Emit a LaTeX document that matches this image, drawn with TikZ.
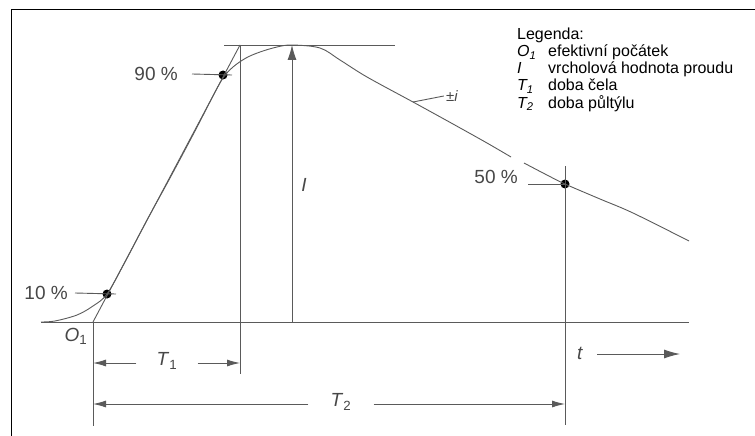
\documentclass[tikz,border=0pt]{standalone}
\usepackage{fontspec}
\setmainfont{Liberation Sans}
\usepackage{tikz}
\usetikzlibrary{arrows.meta}
\definecolor{CurveGray}{HTML}{5A5A5A}
\definecolor{LabelGray}{HTML}{474747}

\begin{document}
\begin{tikzpicture}[x=1pt, y=-1pt,
        line/.style={draw=CurveGray, line width=0.9pt},
        pct/.style={text=LabelGray, inner sep=0pt, font=\fontsize{19}{21}\selectfont},
        legend/.style={anchor=base west, inner sep=0pt, font=\fontsize{16}{18}\selectfont},
        dot/.style={circle, fill=black, inner sep=0pt, minimum size=9pt},
        dimarrow/.style={-{Latex[length=13pt, width=7pt]}},
        peakarrow/.style={-{Latex[length=15pt, width=9pt]}},
        timearrow/.style={-{Latex[length=16pt, width=9pt]}}]
        \useasboundingbox (0,0) rectangle (755,436);
        \draw [line width=0.8pt] (755,9) -- (11,9) -- (11,436);
        \coordinate (AxisL) at (41,322);
        \coordinate (AxisR) at (689,322);
        \coordinate (O1) at (93,322);
        \coordinate (O1Low) at (93,426);
        \coordinate (TopT) at (240,45);
        \coordinate (T1Low) at (240,374);
        \coordinate (PeakL) at (224,45);
        \coordinate (PeakR) at (395,45);
        \coordinate (Peak) at (292,45);
        \coordinate (PeakBase) at (292,322);
        \coordinate (HalfTop) at (565,166);
        \coordinate (HalfLow) at (565,425);
        \node (Dot10) [dot] at (107,294) {};
        \node (Dot90) [dot] at (223,75) {};
        \node (Dot50) [dot] at (565,184) {};
        \draw [line] (AxisL) -- (AxisR);
        \draw [line] plot [smooth, tension=0.55] coordinates {(41,322) (55,321) (77,315) (93,306) (107,294) (125,262) (147,220) (170,178) (195,131) (213,96) (223,78) (233,67) (246,58) (260,52) (277,47) (292,45) (320,48) (340,60) (367,77) (413,102) (453,124) (487,143) (511,157)};
        \draw [line] plot [smooth, tension=0.55] coordinates {(524,163) (545,174) (565,184) (600,199) (633,213) (689,241)};
        \draw [line] (O1) -- (TopT);
        \draw [line] (PeakL) -- (PeakR);
        \draw [line] (TopT) -- (T1Low);
        \draw [line] (O1) -- (O1Low);
        \draw [line] (HalfTop) -- (HalfLow);
        \draw [line, peakarrow] (PeakBase) -- (Peak);
        \node (Pct10) [pct, anchor=east] at (68,293) {10 \%};
        \node (Pct90) [pct, anchor=east] at (178,74) {90 \%};
        \node (Pct50) [pct, anchor=east] at (518,177) {50 \%};
        \draw [line] ([xshift=7pt]Pct10.east) -- ([xshift=9pt]Dot10.center);
        \draw [line] ([xshift=14pt]Pct90.east) -- ([xshift=9pt]Dot90.center);
        \draw [line] ([xshift=10pt,yshift=-7pt]Pct50.east) -- (Dot50.center);
        \node (LabO1) [pct] at (76,336) {\textit{O}\textsubscript{1}};
        \node (LabI) [pct] at (304,185) {\textit{I}};
        \node (LabT1) [pct] at (167,361) {\textit{T}\textsubscript{1}};
        \node (LabT2) [pct] at (341,402) {\textit{T}\textsubscript{2}};
        \node (LabT) [pct] at (580,353) {\textit{t}};
        \node (LabPm) [pct, font=\fontsize{15}{17}\selectfont] at (452,96) {±\textit{i}};
        \coordinate (T1L) at (93,363);
        \coordinate (T1R) at (240,363);
        \coordinate (T2L) at (93,404);
        \coordinate (T2R) at (565,404);
        \draw [line, dimarrow] ([xshift=-20pt]LabT1.west |- T1L) -- (T1L);
        \draw [line, dimarrow] ([xshift=20pt]LabT1.east |- T1R) -- (T1R);
        \draw [line, dimarrow] ([xshift=-22pt]LabT2.west |- T2L) -- (T2L);
        \draw [line, dimarrow] ([xshift=22pt]LabT2.east |- T2R) -- (T2R);
        \coordinate (TimeEnd) at (680,354);
        \draw [line, timearrow] ([xshift=14pt]LabT.east |- TimeEnd) -- (TimeEnd);
        \coordinate (PmFoot) at (413,102);
        \draw [line] (PmFoot) -- ([xshift=-2pt]LabPm.west);
        \node (Leg) [legend] at (517,40) {Legenda:};
        \node (LegO) [legend] at (517,57) {\textit{O\textsubscript{1}}};
        \node (LegI) [legend] at (517,74) {\textit{I}};
        \node (LegT1) [legend] at (517,91) {\textit{T\textsubscript{1}}};
        \node (LegT2) [legend] at (517,108) {\textit{T\textsubscript{2}}};
        \node (TxtO) [legend] at (548,57) {efektivní počátek};
        \node (TxtI) [legend] at (548,74) {vrcholová hodnota proudu};
        \node (TxtT1) [legend] at (548,91) {doba čela};
        \node (TxtT2) [legend] at (548,108) {doba půltýlu};
    \end{tikzpicture}
\end{document}
